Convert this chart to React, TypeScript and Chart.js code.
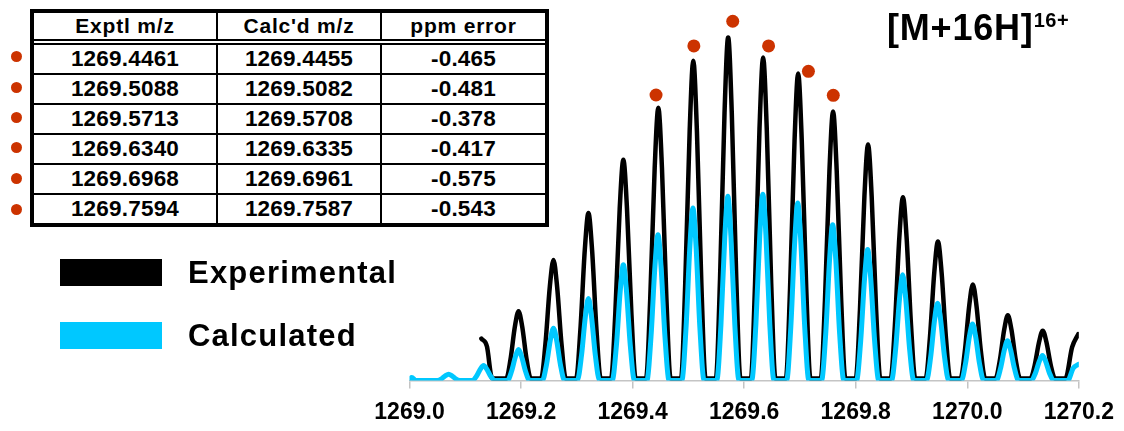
import React, { useEffect, useRef } from "react";
import { Chart, registerables } from "chart.js";

Chart.register(...registerables);

const FONT = "'Liberation Sans', Arial, Helvetica, sans-serif";
const BLACK = "#000000";
const CYAN = "#00c8ff";
const RED = "#cc3300";

// x-axis tick labels (m/z)
const tickValues = [1269.0, 1269.2, 1269.4, 1269.6, 1269.8, 1270.0, 1270.2];

// Experimental profile [m/z, relative intensity]
const experimentalProfile: [number, number][] = [
  [1269.1289, 12.2], [1269.1389, 9.9], [1269.1468, 1.1], [1269.15, 0.6],
  [1269.1735, 0.6], [1269.181, 6.1], [1269.189, 15.8], [1269.1955, 20.2], [1269.202, 15.8], [1269.21, 6.1], [1269.2175, 0.6],
  [1269.2361, 0.6], [1269.2436, 10.5], [1269.2516, 27.4], [1269.2581, 35.1], [1269.2646, 27.4], [1269.2726, 10.5], [1269.2801, 0.6],
  [1269.2988, 0.6], [1269.3063, 14.6], [1269.3143, 38.1], [1269.3208, 48.8], [1269.3273, 38.1], [1269.3353, 14.6], [1269.3428, 0.6],
  [1269.3614, 0.6], [1269.3689, 19.3], [1269.3769, 50.2], [1269.3834, 64.3], [1269.3899, 50.2], [1269.3979, 19.3], [1269.4054, 0.6],
  [1269.4241, 0.6], [1269.4316, 23.9], [1269.4396, 62.0], [1269.4461, 79.5], [1269.4526, 62.0], [1269.4606, 23.9], [1269.4681, 0.6],
  [1269.4868, 0.6], [1269.4943, 28.0], [1269.5023, 72.7], [1269.5088, 93.2], [1269.5153, 72.7], [1269.5233, 28.0], [1269.5308, 0.6],
  [1269.5493, 0.6], [1269.5568, 30.0], [1269.5648, 78.0], [1269.5713, 100.0], [1269.5778, 78.0], [1269.5858, 30.0], [1269.5933, 0.6],
  [1269.612, 0.6], [1269.6195, 28.2], [1269.6275, 73.4], [1269.634, 94.1], [1269.6405, 73.4], [1269.6485, 28.2], [1269.656, 0.6],
  [1269.6748, 0.6], [1269.6823, 26.9], [1269.6903, 69.8], [1269.6968, 89.5], [1269.7033, 69.8], [1269.7113, 26.9], [1269.7188, 0.6],
  [1269.7374, 0.6], [1269.7449, 23.5], [1269.7529, 61.2], [1269.7594, 78.4], [1269.7659, 61.2], [1269.7739, 23.5], [1269.7814, 0.6],
  [1269.8001, 0.6], [1269.8076, 20.6], [1269.8156, 53.7], [1269.8221, 68.8], [1269.8286, 53.7], [1269.8366, 20.6], [1269.8441, 0.6],
  [1269.8627, 0.6], [1269.8702, 16.0], [1269.8782, 41.7], [1269.8847, 53.4], [1269.8912, 41.7], [1269.8992, 16.0], [1269.9067, 0.6],
  [1269.9254, 0.6], [1269.9329, 12.2], [1269.9409, 31.6], [1269.9474, 40.5], [1269.9539, 31.6], [1269.9619, 12.2], [1269.9694, 0.6],
  [1269.988, 0.6], [1269.9955, 8.4], [1270.0035, 21.8], [1270.01, 28.0], [1270.0165, 21.8], [1270.0245, 8.4], [1270.032, 0.6],
  [1270.0507, 0.6], [1270.0582, 5.7], [1270.0662, 14.8], [1270.0727, 19.0], [1270.0792, 14.8], [1270.0872, 5.7], [1270.0947, 0.6],
  [1270.1133, 0.6], [1270.1208, 4.4], [1270.1288, 11.3], [1270.1353, 14.5], [1270.1418, 11.3], [1270.1498, 4.4], [1270.1573, 0.6],
  [1270.176, 0.6], [1270.188, 9.7], [1270.199, 13.5],
];

// Calculated profile [m/z, relative intensity]
const calculatedProfile: [number, number][] = [
  [1269.0, 0.3], [1269.004, 0.9], [1269.011, 0.0],
  [1269.0501, 0], [1269.0576, 0.5], [1269.0646, 1.4], [1269.0701, 1.8], [1269.0756, 1.4], [1269.0826, 0.5], [1269.0901, 0],
  [1269.1128, 0], [1269.1203, 1.3], [1269.1273, 3.4], [1269.1328, 4.4], [1269.1383, 3.4], [1269.1453, 1.3], [1269.1528, 0],
  [1269.1755, 0], [1269.183, 2.7], [1269.19, 7.0], [1269.1955, 9.0], [1269.201, 7.0], [1269.208, 2.7], [1269.2155, 0],
  [1269.2381, 0], [1269.2456, 4.6], [1269.2526, 11.9], [1269.2581, 15.2], [1269.2636, 11.9], [1269.2706, 4.6], [1269.2781, 0],
  [1269.3008, 0], [1269.3083, 7.2], [1269.3153, 18.6], [1269.3208, 23.9], [1269.3263, 18.6], [1269.3333, 7.2], [1269.3408, 0],
  [1269.3634, 0], [1269.3709, 10.1], [1269.3779, 26.3], [1269.3834, 33.7], [1269.3889, 26.3], [1269.3959, 10.1], [1269.4034, 0],
  [1269.4255, 0], [1269.433, 12.8], [1269.44, 33.2], [1269.4455, 42.5], [1269.451, 33.2], [1269.458, 12.8], [1269.4655, 0],
  [1269.4882, 0], [1269.4957, 15.1], [1269.5027, 39.2], [1269.5082, 50.3], [1269.5137, 39.2], [1269.5207, 15.1], [1269.5282, 0],
  [1269.5508, 0], [1269.5583, 16.1], [1269.5653, 41.9], [1269.5708, 53.7], [1269.5763, 41.9], [1269.5833, 16.1], [1269.5908, 0],
  [1269.6135, 0], [1269.621, 16.3], [1269.628, 42.4], [1269.6335, 54.3], [1269.639, 42.4], [1269.646, 16.3], [1269.6535, 0],
  [1269.6761, 0], [1269.6836, 15.5], [1269.6906, 40.3], [1269.6961, 51.7], [1269.7016, 40.3], [1269.7086, 15.5], [1269.7161, 0],
  [1269.7387, 0], [1269.7462, 13.6], [1269.7532, 35.4], [1269.7587, 45.4], [1269.7642, 35.4], [1269.7712, 13.6], [1269.7787, 0],
  [1269.8014, 0], [1269.8089, 11.5], [1269.8159, 29.8], [1269.8214, 38.2], [1269.8269, 29.8], [1269.8339, 11.5], [1269.8414, 0],
  [1269.8641, 0], [1269.8716, 9.2], [1269.8786, 24.0], [1269.8841, 30.8], [1269.8896, 24.0], [1269.8966, 9.2], [1269.9041, 0],
  [1269.9268, 0], [1269.9343, 6.8], [1269.9413, 17.6], [1269.9468, 22.5], [1269.9523, 17.6], [1269.9593, 6.8], [1269.9668, 0],
  [1269.9894, 0], [1269.9969, 5.0], [1270.0039, 12.9], [1270.0094, 16.5], [1270.0149, 12.9], [1270.0219, 5.0], [1270.0294, 0],
  [1270.0521, 0], [1270.0596, 3.5], [1270.0666, 9.0], [1270.0721, 11.6], [1270.0776, 9.0], [1270.0846, 3.5], [1270.0921, 0],
  [1270.1148, 0], [1270.1223, 2.2], [1270.1293, 5.7], [1270.1348, 7.3], [1270.1403, 5.7], [1270.1473, 2.2], [1270.1548, 0],
  [1270.18, 0], [1270.19, 3.6], [1270.199, 4.7],
];

// Red markers above the labeled isotopic peaks
const labeledPeakMz = [1269.442, 1269.5098, 1269.5795, 1269.6438, 1269.7152, 1269.7598];
const labeledPeakHeight = [83.2, 97.5, 104.7, 97.5, 90.1, 83.1];

// Table values
const tableHeaders = ["Exptl m/z", "Calc'd m/z", "ppm error"];
const exptlMz = ["1269.4461", "1269.5088", "1269.5713", "1269.6340", "1269.6968", "1269.7594"];
const calcdMz = ["1269.4455", "1269.5082", "1269.5708", "1269.6335", "1269.6961", "1269.7587"];
const ppmError = ["-0.465", "-0.481", "-0.378", "-0.417", "-0.575", "-0.543"];

const colWidths = [184, 164, 163];
const tableDotY = [56.7, 87.3, 117.3, 147.3, 178.3, 209.3];

function Table() {
  const cell = (text: string, ci: number, header: boolean) => (
    <div
      key={ci}
      style={{
        width: colWidths[ci],
        boxSizing: "border-box",
        borderRight: ci < 2 ? "2px solid #000" : "none",
        display: "flex",
        alignItems: "center",
        justifyContent: "center",
        fontSize: header ? 21 : 22.5,
        letterSpacing: header ? 0.8 : 0.2,
        height: "100%",
      }}
    >
      {text}
    </div>
  );
  return (
    <div
      style={{
        position: "absolute",
        left: 30,
        top: 9,
        width: 519,
        height: 218,
        border: "4px solid #000",
        boxSizing: "border-box",
        fontFamily: FONT,
        fontWeight: "bold",
        color: "#000",
        background: "#fff",
      }}
    >
      <div style={{ display: "flex", height: 26 }}>
        {tableHeaders.map((h, i) => cell(h, i, true))}
      </div>
      <div style={{ height: 6, boxSizing: "border-box", borderTop: "2px solid #000", borderBottom: "2px solid #000" }} />
      {exptlMz.map((v, r) => (
        <div
          key={r}
          style={{
            display: "flex",
            height: r === 0 ? 28 : 30,
            boxSizing: "border-box",
            borderTop: r === 0 ? "none" : "2px solid #000",
          }}
        >
          {[v, calcdMz[r], ppmError[r]].map((t, ci) => cell(t, ci, false))}
        </div>
      ))}
    </div>
  );
}

export default function App() {
  const canvasRef = useRef<HTMLCanvasElement | null>(null);

  useEffect(() => {
    const canvas = canvasRef.current;
    if (!canvas) return;
    const chart = new Chart(canvas, {
      type: "line",
      data: {
        datasets: [
          {
            label: "Labeled peaks",
            data: labeledPeakMz.map((x, i) => ({ x, y: labeledPeakHeight[i] })),
            showLine: false,
            pointRadius: 6.5,
            pointHoverRadius: 6.5,
            pointBackgroundColor: RED,
            pointBorderColor: RED,
            pointBorderWidth: 0,
          },
          {
            label: "Calculated",
            data: calculatedProfile.map(([x, y]) => ({ x, y })),
            borderColor: CYAN,
            borderWidth: 5,
            pointRadius: 0,
            cubicInterpolationMode: "monotone",
            borderJoinStyle: "round",
            borderCapStyle: "round",
            fill: false,
          },
          {
            label: "Experimental",
            data: experimentalProfile.map(([x, y]) => ({ x, y })),
            borderColor: BLACK,
            borderWidth: 4.5,
            pointRadius: 0,
            cubicInterpolationMode: "monotone",
            borderJoinStyle: "round",
            borderCapStyle: "round",
            fill: false,
          },
        ],
      },
      options: {
        responsive: false,
        animation: false,
        events: [],
        layout: { padding: { left: 409.5, right: 42.3, top: 0, bottom: 0 } },
        plugins: {
          legend: { display: false },
          tooltip: { enabled: false },
          title: { display: false },
        },
        scales: {
          x: {
            type: "linear",
            min: 1269.0,
            max: 1270.2,
            afterBuildTicks: (scale: any) => {
              scale.ticks = tickValues.map((v) => ({ value: v }));
            },
            afterFit: (scale: any) => {
              scale.height = 50.5;
            },
            ticks: {
              callback: (v: any) => Number(v).toFixed(1),
              font: { family: FONT, size: 23, weight: "bold" },
              color: "#000",
              padding: 10,
              maxRotation: 0,
              autoSkip: false,
            },
            grid: {
              drawOnChartArea: false,
              drawTicks: true,
              tickLength: 8,
              color: "#c4c4c4",
              lineWidth: 1.5,
            },
            border: { display: true, color: "#c4c4c4", width: 1.5 },
          },
          y: { display: false, min: 0, max: 109 },
        },
      },
    } as any);
    return () => chart.destroy();
  }, []);

  return (
    <div style={{ position: "absolute", left: 0, top: 0, width: 1124, height: 431, background: "#fff", overflow: "hidden" }}>
      <canvas ref={canvasRef} width={1124} height={431} style={{ position: "absolute", left: 0, top: 0, width: 1124, height: 431 }} />
      <Table />
      {tableDotY.map((y, i) => (
        <div
          key={i}
          style={{ position: "absolute", left: 16.7 - 5.5, top: y - 5.5, width: 11, height: 11, borderRadius: "50%", background: RED }}
        />
      ))}
      <div style={{ position: "absolute", left: 60, top: 259, width: 102, height: 27, background: BLACK }} />
      <div style={{ position: "absolute", left: 60, top: 322, width: 102, height: 27, background: CYAN }} />
      <div style={{ position: "absolute", left: 188, top: 257.3, fontFamily: FONT, fontWeight: "bold", fontSize: 31, lineHeight: "31px", letterSpacing: 1.2, color: "#000", whiteSpace: "nowrap" }}>
        Experimental
      </div>
      <div style={{ position: "absolute", left: 188, top: 319.5, fontFamily: FONT, fontWeight: "bold", fontSize: 31, lineHeight: "31px", letterSpacing: 1.2, color: "#000", whiteSpace: "nowrap" }}>
        Calculated
      </div>
      <div style={{ position: "absolute", left: 887, top: 10, fontFamily: FONT, fontWeight: "bold", fontSize: 36, lineHeight: "36px", letterSpacing: 0.8, color: "#000", whiteSpace: "nowrap" }}>
        [M+16H]
        <span style={{ fontSize: 20, position: "relative", top: -13, letterSpacing: 0.5 }}>16+</span>
      </div>
    </div>
  );
}
